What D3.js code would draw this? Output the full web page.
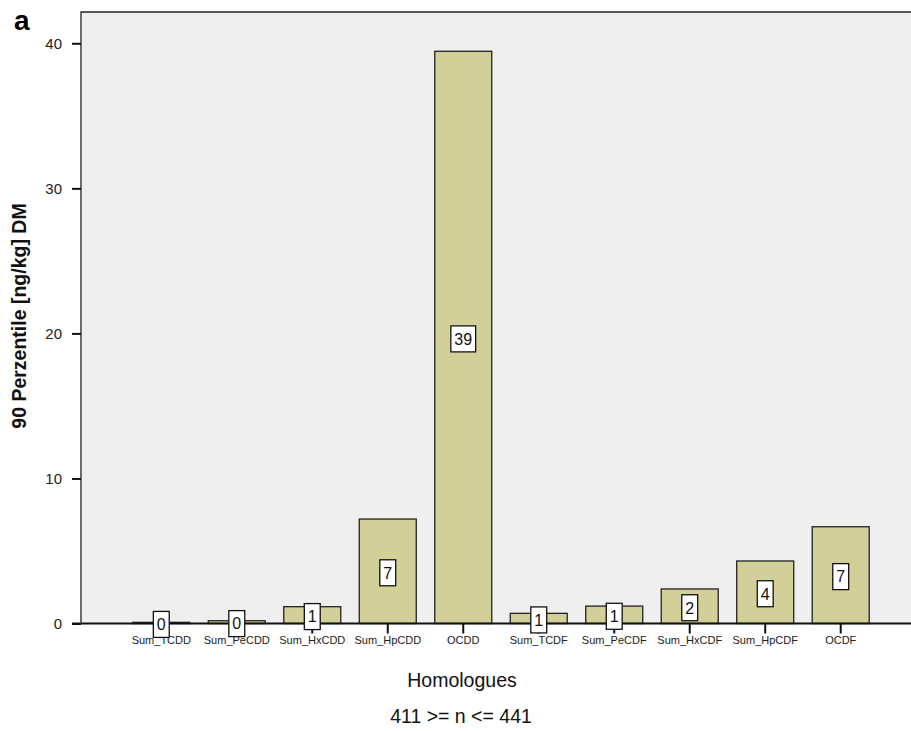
<!DOCTYPE html>
<html>
<head>
<meta charset="utf-8">
<script src="https://cdn.jsdelivr.net/npm/d3@7"></script>
<style>
  html, body { margin: 0; padding: 0; background: #fff; }
  svg { display: block; font-family: Arial, "Liberation Sans", sans-serif; }
</style>
</head>
<body>
<svg id="chart" width="911" height="731"></svg>
<script>
// Homologue groups and their 90th percentile values (ng/kg DM)
const categories = ["Sum_TCDD", "Sum_PeCDD", "Sum_HxCDD", "Sum_HpCDD", "OCDD",
                    "Sum_TCDF", "Sum_PeCDF", "Sum_HxCDF", "Sum_HpCDF", "OCDF"];
const values = [0.08, 0.19, 1.16, 7.2, 39.45, 0.7, 1.2, 2.38, 4.31, 6.67];
const yTicks = [0, 10, 20, 30, 40];

const svg = d3.select("#chart");
const plot = { left: 81, right: 921, top: 12, bottom: 623.5 };

const x = d3.scaleBand()
  .domain(categories)
  .range([plot.left, plot.right])
  .paddingInner(0.245)
  .paddingOuter(0.686);

const y = d3.scaleLinear()
  .domain([0, 40])
  .range([plot.bottom, 43.3]);

// plot background
svg.append("rect")
  .attr("x", plot.left).attr("y", plot.top)
  .attr("width", plot.right - plot.left)
  .attr("height", plot.bottom - plot.top)
  .attr("fill", "#efefef");

// bars
svg.append("g").selectAll("rect")
  .data(categories.map((c, i) => ({ c, v: values[i] })))
  .join("rect")
  .attr("x", d => x(d.c))
  .attr("y", d => y(d.v))
  .attr("width", x.bandwidth())
  .attr("height", d => y(0) - y(d.v))
  .attr("fill", "#d3cf99")
  .attr("stroke", "#222")
  .attr("stroke-width", 1.3);

// frame: left and top edges
svg.append("path")
  .attr("d", `M${plot.left},${plot.bottom}V${plot.top}H${plot.right}`)
  .attr("fill", "none")
  .attr("stroke", "#222")
  .attr("stroke-width", 1.3);

// y axis
const yAxis = svg.append("g")
  .attr("transform", `translate(${plot.left},0)`)
  .call(d3.axisLeft(y).tickValues(yTicks).tickSize(9).tickPadding(10).tickFormat(d3.format("d")));
yAxis.select(".domain").remove();
yAxis.selectAll(".tick line").attr("stroke", "#111").attr("stroke-width", 2);
yAxis.selectAll(".tick text")
  .attr("font-family", "Arial, 'Liberation Sans', sans-serif")
  .attr("font-size", 15).attr("fill", "#222");

// x axis baseline and category ticks
svg.append("line")
  .attr("x1", 72).attr("x2", plot.right)
  .attr("y1", plot.bottom).attr("y2", plot.bottom)
  .attr("stroke", "#111").attr("stroke-width", 2);

const xAxis = svg.append("g")
  .attr("transform", `translate(0,${plot.bottom})`)
  .call(d3.axisBottom(x).tickSize(10).tickPadding(3));
xAxis.select(".domain").remove();
xAxis.selectAll(".tick line").attr("stroke", "#111").attr("stroke-width", 2);
xAxis.selectAll(".tick text")
  .attr("font-family", "Arial, 'Liberation Sans', sans-serif")
  .attr("font-size", 11).attr("fill", "#222");

// value labels in white boxes at bar middles
const fmt = d3.format(".0f");
const labels = svg.append("g").selectAll("g")
  .data(categories.map((c, i) => ({ c, v: values[i] })))
  .join("g")
  .attr("transform", d => `translate(${x(d.c) + x.bandwidth() / 2},${(y(d.v) + y(0)) / 2 + 1.5})`);

labels.append("text")
  .attr("text-anchor", "middle")
  .attr("dy", "0.36em")
  .attr("font-size", 16)
  .attr("fill", "#111")
  .text(d => fmt(d.v))
  .each(function () {
    const w = this.getComputedTextLength();
    d3.select(this.parentNode).insert("rect", "text")
      .attr("x", -w / 2 - 3.5).attr("y", -13)
      .attr("width", w + 7).attr("height", 26)
      .attr("fill", "#fff")
      .attr("stroke", "#111")
      .attr("stroke-width", 1.3);
  });

// axis titles
svg.append("text")
  .attr("transform", `translate(26,316) rotate(-90)`)
  .attr("text-anchor", "middle")
  .attr("font-size", 19.5).attr("font-weight", "bold").attr("fill", "#111")
  .text("90 Perzentile [ng/kg] DM");

svg.append("text")
  .attr("x", 462).attr("y", 687)
  .attr("text-anchor", "middle")
  .attr("font-size", 19.5).attr("fill", "#111")
  .text("Homologues");

svg.append("text")
  .attr("x", 461).attr("y", 723)
  .attr("text-anchor", "middle")
  .attr("font-size", 19.5).attr("fill", "#111")
  .text("411 >= n <= 441");

// panel letter
svg.append("text")
  .attr("x", 14).attr("y", 30)
  .attr("font-size", 28).attr("font-weight", "bold").attr("fill", "#000")
  .text("a");
</script>
</body>
</html>
